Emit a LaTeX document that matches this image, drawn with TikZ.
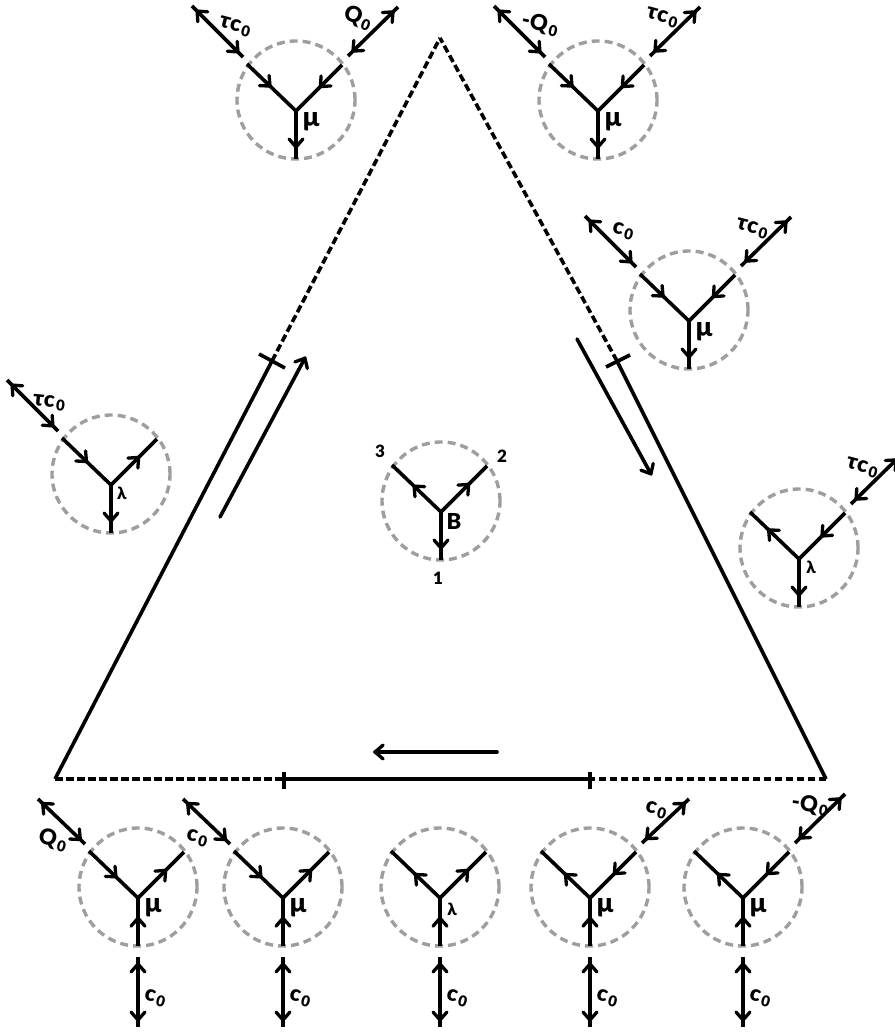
\documentclass[tikz,border=0pt]{standalone}
\usepackage{fontspec}
\setmainfont{Lato}
\newfontfamily\tagfont{Lato Black}
\usetikzlibrary{decorations.markings}
\newcommand{\subz}{\kern2pt\raisebox{-3pt}{\fontsize{15}{15}\selectfont 0}}
\newcommand{\barbfwd}{\draw[line width=3.3pt,line cap=round,line join=round] (-8,7) -- (0,0) -- (-8,-7);}
\newcommand{\barbback}{\draw[line width=3.3pt,line cap=round,line join=round] (8,7) -- (0,0) -- (8,-7);}
\tikzset{
	blob/.style={circle,draw=black!38,line width=3.4pt,dash pattern=on 8pt off 5pt,minimum size=118pt,inner sep=0},
	edgeline/.style={line width=3.6pt},
	legflow/.style={edgeline,postaction={decorate},decoration={markings,mark=at position #1 with {\barbfwd}}},
	extflow/.style={edgeline,postaction={decorate},decoration={markings,mark=at position .1 with {\barbback},mark=at position .9 with {\barbfwd}}},
	side/.style={line width=3.6pt},
	sidedash/.style={line width=3.6pt,dash pattern=on 7.5pt off 3.5pt},
	flowarrow/.style={line width=3.6pt,line cap=round,postaction={decorate},decoration={markings,mark=at position .999 with {\barbfwd}}},
	tag/.style={font=\fontsize{22}{22}\tagfont,inner sep=0},
	smalltag/.style={font=\fontsize{17}{17}\tagfont,inner sep=0},
	mutag/.style={font=\fontsize{27}{27}\tagfont,inner sep=0},
}
\newcommand{\blobat}[3]{
	\node[blob] (#1) at (#2,#3) {};
	\coordinate (#1-j) at ([shift={(0,11)}]#1.center);
	\coordinate (#1-l) at ([shift={(-49,-36)}]#1.center);
	\coordinate (#1-r) at ([shift={(46,-35)}]#1.center);
	\coordinate (#1-d) at ([shift={(0,59)}]#1.center);
	\coordinate (#1-la) at ([shift={(-53,-43)}]#1.center);
	\coordinate (#1-lb) at ([shift={(-104,-94)}]#1.center);
	\coordinate (#1-ra) at ([shift={(52,-44)}]#1.center);
	\coordinate (#1-rb) at ([shift={(102,-93)}]#1.center);
	\coordinate (#1-da) at ([shift={(0,70)}]#1.center);
	\coordinate (#1-db) at ([shift={(0,140)}]#1.center);
}
\begin{document}
\begin{tikzpicture}[x=1pt,y=-1pt]
\useasboundingbox (0,0) rectangle (894,1032);
\coordinate (apex) at (440,38);
\coordinate (west) at (55,779);
\coordinate (east) at (826,779);
\coordinate (wcut) at (272,361);
\coordinate (ecut) at (617,361);
\coordinate (scutl) at (284,779);
\coordinate (scutr) at (590,779);
\draw[side] (west) -- (wcut);
\draw[sidedash] (wcut) -- (apex);
\draw[side] (east) -- (ecut);
\draw[sidedash] (ecut) -- (apex);
\draw[sidedash] (west) -- (scutl);
\draw[side] (scutl) -- (scutr);
\draw[sidedash] (east) -- (scutr);
\draw[side] ([shift={(-13,-7)}]wcut) -- ([shift={(13,7)}]wcut);
\draw[side] ([shift={(-11,6)}]ecut) -- ([shift={(13,-6)}]ecut);
\draw[side] ([shift={(0,-7)}]scutl) -- ([shift={(0,10)}]scutl);
\draw[side] ([shift={(0,-7)}]scutr) -- ([shift={(0,10)}]scutr);
\coordinate (wflowa) at (220,517);
\coordinate (wflowb) at (305,358);
\coordinate (eflowa) at (577,339);
\coordinate (eflowb) at (651,474);
\coordinate (sflowa) at (497,752);
\coordinate (sflowb) at (375,752);
\draw[flowarrow] (wflowa) -- (wflowb);
\draw[flowarrow] (eflowa) -- (eflowb);
\draw[flowarrow] (sflowa) -- (sflowb);

\blobat{topa}{296}{100}
\draw[legflow=.47] (topa-l) -- (topa-j);
\draw[legflow=.47] (topa-r) -- (topa-j);
\draw[legflow=.75] (topa-j) -- (topa-d);
\draw[extflow] (topa-la) -- (topa-lb);
\draw[extflow] (topa-ra) -- (topa-rb);
\node[tag,rotate=-15] (topa-lt) at (235,27) {τc\subz};
\node[tag,rotate=-22] (topa-rt) at (358,18) {Q\subz};
\node[mutag] (topa-m) at (311,122) {μ};

\blobat{topb}{598}{100}
\draw[legflow=.47] (topb-l) -- (topb-j);
\draw[legflow=.47] (topb-r) -- (topb-j);
\draw[legflow=.75] (topb-j) -- (topb-d);
\draw[extflow] (topb-la) -- (topb-lb);
\draw[extflow] (topb-ra) -- (topb-rb);
\node[tag,rotate=-12] (topb-lt) at (540,24) {-Q\subz};
\node[tag,rotate=-15] (topb-rt) at (662,18) {τc\subz};
\node[mutag] (topb-m) at (613,122) {μ};

\blobat{righta}{689}{310}
\draw[legflow=.47] (righta-l) -- (righta-j);
\draw[legflow=.47] (righta-r) -- (righta-j);
\draw[legflow=.75] (righta-j) -- (righta-d);
\draw[extflow] (righta-la) -- (righta-lb);
\draw[extflow] (righta-ra) -- (righta-rb);
\node[tag,rotate=-15] (righta-lt) at (623,231) {c\subz};
\node[tag,rotate=-15] (righta-rt) at (752,229) {τc\subz};
\node[mutag] (righta-m) at (704,332) {μ};

\blobat{rightb}{799}{548}
\draw[legflow=.62] (rightb-j) -- (rightb-l);
\draw[legflow=.5] (rightb-r) -- (rightb-j);
\draw[legflow=.75] (rightb-j) -- (rightb-d);
\draw[extflow] (rightb-ra) -- (rightb-rb);
\node[tag,rotate=-15] (rightb-rt) at (862,468) {τc\subz};
\node[smalltag] (rightb-m) at (811,567) {λ};

\blobat{left}{111}{474}
\draw[legflow=.5] (left-l) -- (left-j);
\draw[legflow=.6] (left-j) -- (left-r);
\draw[legflow=.75] (left-j) -- (left-d);
\draw[extflow] (left-la) -- (left-lb);
\node[tag,rotate=-6] (left-lt) at (49,403) {τc\subz};
\node[smalltag] (left-m) at (122,493) {λ};

\blobat{mid}{441}{501}
\draw[legflow=.55] (mid-j) -- (mid-l);
\draw[legflow=.6] (mid-j) -- (mid-r);
\draw[legflow=.75] (mid-j) -- (mid-d);
\node[tag] (mid-b) at (454,521) {B};
\node[smalltag] (mid-three) at (380,451) {3};
\node[smalltag] (mid-two) at (502,456) {2};
\node[smalltag] (mid-one) at (438,578) {1};

\blobat{bota}{138}{887}
\draw[legflow=.55] (bota-l) -- (bota-j);
\draw[legflow=.6] (bota-j) -- (bota-r);
\draw[legflow=.58] (bota-d) -- (bota-j);
\draw[extflow] (bota-la) -- ([shift={(4,6)}]bota-lb);
\draw[extflow] (bota-da) -- (bota-db);
\node[tag,rotate=-15] (bota-lt) at (53,840) {Q\subz};
\node[mutag] (bota-m) at (153,908) {μ};
\node[tag,rotate=-15] (bota-dt) at (155,998) {c\subz};

\blobat{botb}{283}{887}
\draw[legflow=.55] (botb-l) -- (botb-j);
\draw[legflow=.6] (botb-j) -- (botb-r);
\draw[legflow=.58] (botb-d) -- (botb-j);
\draw[extflow] (botb-la) -- ([shift={(4,6)}]botb-lb);
\draw[extflow] (botb-da) -- (botb-db);
\node[tag,rotate=-15] (botb-lt) at (197,838) {c\subz};
\node[mutag] (botb-m) at (298,908) {μ};
\node[tag,rotate=-15] (botb-dt) at (300,998) {c\subz};

\blobat{botc}{440}{887}
\draw[legflow=.5] (botc-j) -- (botc-l);
\draw[legflow=.6] (botc-j) -- (botc-r);
\draw[legflow=.58] (botc-d) -- (botc-j);
\draw[extflow] (botc-da) -- (botc-db);
\node[smalltag] (botc-m) at (452,909) {λ};
\node[tag,rotate=-15] (botc-dt) at (457,998) {c\subz};

\blobat{botd}{590}{887}
\draw[legflow=.5] (botd-j) -- (botd-l);
\draw[legflow=.47] (botd-r) -- (botd-j);
\draw[legflow=.58] (botd-d) -- (botd-j);
\draw[extflow] (botd-ra) -- ([shift={(-3,5)}]botd-rb);
\draw[extflow] (botd-da) -- (botd-db);
\node[tag,rotate=-15] (botd-rt) at (656,810) {c\subz};
\node[mutag] (botd-m) at (605,908) {μ};
\node[tag,rotate=-15] (botd-dt) at (607,998) {c\subz};

\blobat{bote}{743}{887}
\draw[legflow=.5] (bote-j) -- (bote-l);
\draw[legflow=.47] (bote-r) -- (bote-j);
\draw[legflow=.58] (bote-d) -- (bote-j);
\draw[extflow] (bote-ra) -- (bote-rb);
\draw[extflow] (bote-da) -- (bote-db);
\node[tag,rotate=-8] (bote-rt) at (810,805) {-Q\subz};
\node[mutag] (bote-m) at (758,908) {μ};
\node[tag,rotate=-15] (bote-dt) at (760,998) {c\subz};
\end{tikzpicture}
\end{document}
